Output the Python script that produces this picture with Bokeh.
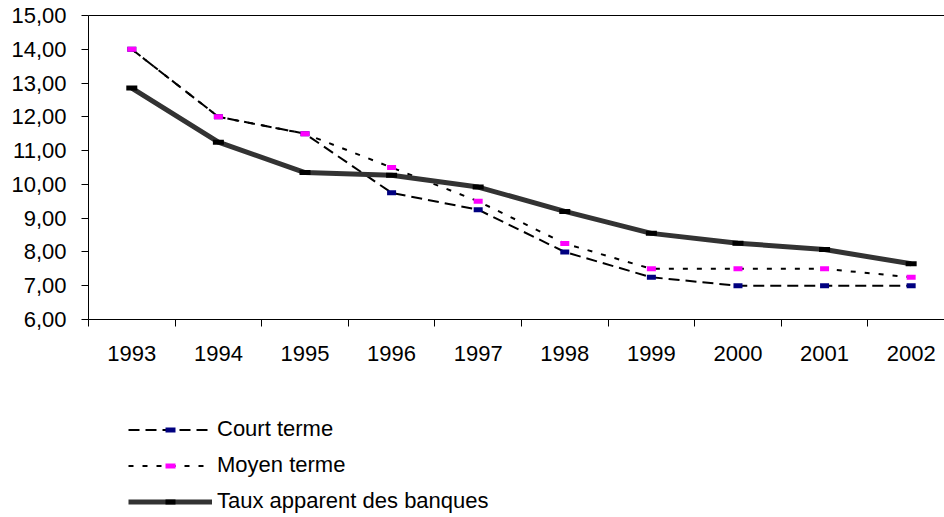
from bokeh.plotting import figure
from bokeh.layouts import column
from bokeh.models import FixedTicker, LinearAxis, Legend, LegendItem, Range1d
from bokeh.embed import file_html
from bokeh.resources import INLINE

years = ["1993", "1994", "1995", "1996", "1997", "1998", "1999", "2000", "2001", "2002"]
court_terme = [14.00, 12.00, 11.50, 9.75, 9.25, 8.00, 7.25, 7.00, 7.00, 7.00]
moyen_terme = [14.00, 12.00, 11.50, 10.50, 9.50, 8.25, 7.50, 7.50, 7.50, 7.25]
taux_apparent = [12.85, 11.25, 10.35, 10.27, 9.92, 9.20, 8.55, 8.26, 8.07, 7.65]
y_ticks = [6, 7, 8, 9, 10, 11, 12, 13, 14, 15]
y_tick_labels = ["6,00", "7,00", "8,00", "9,00", "10,00", "11,00", "12,00", "13,00", "14,00", "15,00"]
series_names = ["Court terme", "Moyen terme", "Taux apparent des banques"]

FONT = "Liberation Sans"
FS = "22px"

# series styles
styles = [
    dict(line_color="black", line_width=2, line_dash="11 6", marker_color="#000080", marker_size=9),
    dict(line_color="black", line_width=2, line_dash="5 9", marker_color="#FF00FF", marker_size=9),
    dict(line_color="#333333", line_width=5, line_dash="solid", marker_color="black", marker_size=11),
]

xs = list(range(len(years)))
series = [court_terme, moyen_terme, taux_apparent]

H1 = 370
p = figure(width=944, height=H1, output_backend="svg", toolbar_location=None,
           x_range=Range1d(-0.5, 9.385), y_range=Range1d(6, 15),
           min_border_left=88, min_border_right=0, min_border_top=15, min_border_bottom=H1 - 319)
p.background_fill_color = "white"
p.border_fill_color = "white"
p.outline_line_color = None
p.xgrid.visible = False
p.ygrid.visible = False

# x axis (ticks between categories)
xa = p.xaxis[0]
xa.ticker = FixedTicker(ticks=xs, minor_ticks=[i - 0.5 for i in range(len(years) + 1)])
xa.major_label_overrides = {i: years[i] for i in xs}
xa.major_tick_out = 0
xa.major_tick_in = 0
xa.minor_tick_out = 7
xa.minor_tick_in = 0
xa.minor_tick_line_color = "black"
xa.axis_line_color = "black"
xa.major_label_text_font = FONT
xa.major_label_text_font_size = FS
xa.major_label_text_color = "black"
xa.major_label_standoff = 19

# y axis
ya = p.yaxis[0]
ya.ticker = FixedTicker(ticks=y_ticks, minor_ticks=[])
ya.major_label_overrides = {t: l for t, l in zip(y_ticks, y_tick_labels)}
ya.major_tick_out = 7
ya.major_tick_in = 0
ya.minor_tick_line_color = None
ya.major_tick_line_color = "black"
ya.axis_line_color = "black"
ya.major_label_text_font = FONT
ya.major_label_text_font_size = FS
ya.major_label_text_color = "black"
ya.major_label_standoff = 15

# top border line of the plot area
top = LinearAxis(ticker=FixedTicker(ticks=[]), axis_line_color="black",
                 major_tick_line_color=None, minor_tick_line_color=None,
                 major_label_text_font_size="0px", major_label_standoff=0)
p.add_layout(top, "above")

for vals, st in zip(series, styles):
    p.line(xs, vals, line_color=st["line_color"], line_width=st["line_width"], line_dash=st["line_dash"])
    p.scatter(xs, vals, marker="dash", size=st["marker_size"], line_color=st["marker_color"], line_width=5)

# legend panel below (its frame is aligned with the chart's frame by the column)
H2 = 517 - H1
lf = figure(width=944, height=H2, output_backend="svg", toolbar_location=None,
            x_axis_location=None, y_axis_location=None,
            x_range=Range1d(100, 101), y_range=Range1d(100, 101),
            min_border_left=0, min_border_right=0, min_border_top=0, min_border_bottom=0)
lf.outline_line_color = None
lf.xgrid.visible = False
lf.ygrid.visible = False
lf.background_fill_color = "white"
lf.border_fill_color = "white"

items = []
for name, vals, st in zip(series_names, series, styles):
    lr = lf.line(xs, vals, line_color=st["line_color"], line_width=st["line_width"], line_dash=st["line_dash"])
    mr = lf.scatter(xs, vals, marker="dash", size=st["marker_size"], line_color=st["marker_color"], line_width=5)
    items.append(LegendItem(label=name, renderers=[lr, mr]))

legend = Legend(items=items, location=(40, 3), orientation="vertical",
                glyph_width=84, glyph_height=25, label_height=25, spacing=10,
                label_standoff=5, padding=0, margin=0,
                border_line_color=None, background_fill_color=None,
                label_text_font=FONT, label_text_font_size=FS, label_text_color="black")
lf.add_layout(legend, "center")

layout = column(p, lf, spacing=0)
open("out.html", "w").write(file_html(layout, INLINE))
